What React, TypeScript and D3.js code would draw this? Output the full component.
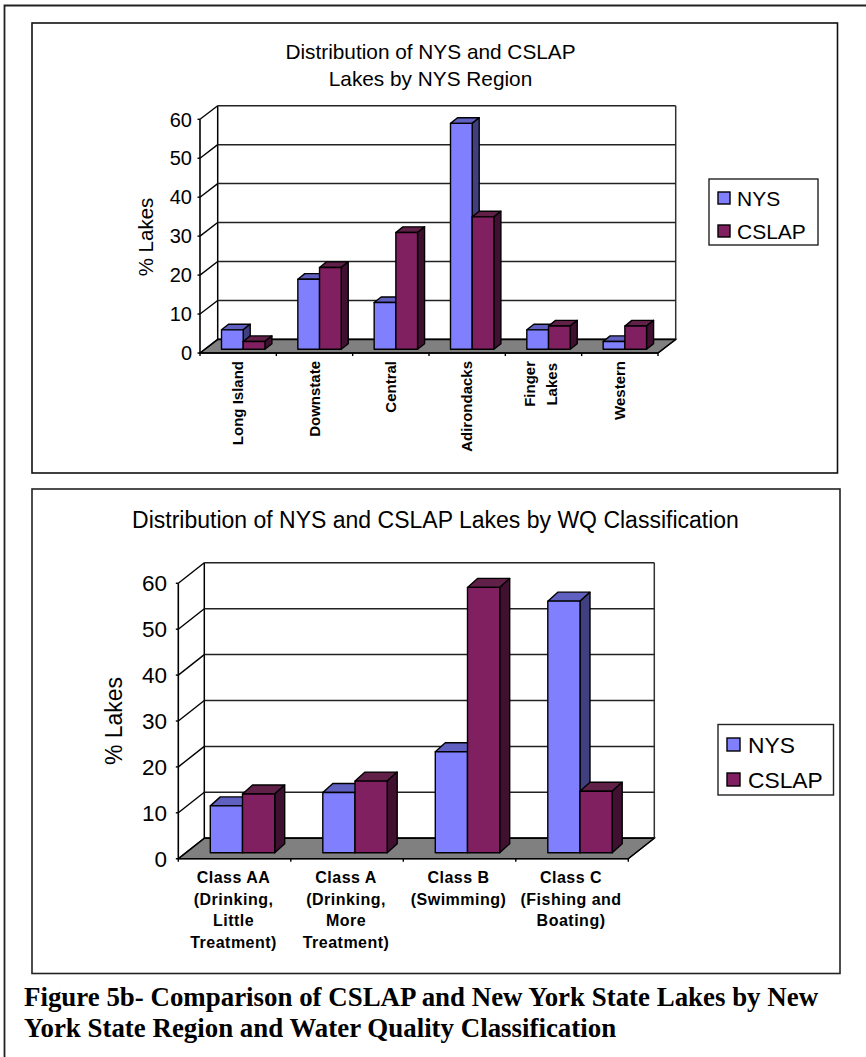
import React from "react";
import * as d3 from "d3";

const seriesNames = ["NYS", "CSLAP"];
const yTicks = [0, 10, 20, 30, 40, 50, 60];

const regionLabels = [["Long Island"], ["Downstate"], ["Central"], ["Adirondacks"], ["Finger", "Lakes"], ["Western"]];
const regionNYS = [5, 18, 12, 58, 5, 2];
const regionCSLAP = [2, 21, 30, 34, 6, 6];

const classLabels = [
  ["Class AA", "(Drinking,", "Little", "Treatment)"],
  ["Class A", "(Drinking,", "More", "Treatment)"],
  ["Class B", "(Swimming)"],
  ["Class C", "(Fishing and", "Boating)"],
];
const classNYS = [10.2, 13.1, 22, 54.8];
const classCSLAP = [12.8, 15.6, 57.8, 13.4];

const FACE = ["#8080ff", "#802060"];
const TOP = ["#6060c0", "#602048"];
const SIDE = ["#404080", "#401030"];
const FONT = "'Liberation Sans', Arial, sans-serif";
const SERIF = "'Liberation Serif', 'Times New Roman', serif";

type Cfg = {
  x0: number; x1: number; y0: number; y60: number; depth: [number, number];
  barBase: number; barPad: number; barW: number; barD: [number, number];
  tickSize: number; tickRight: number; titleSize: number; titleY: number;
  titleBaselineX: number;
};

function Chart3D({ cfg, a, b, n }: { cfg: Cfg; a: number[]; b: number[]; n: number }) {
  const { x0, x1, y0, y60, depth, barBase, barPad, barW, barD } = cfg;
  const [dx, dy] = depth;
  const x = d3.scaleLinear().domain([0, n]).range([x0, x1]);
  const y = d3.scaleLinear().domain([0, 60]).range([y0, y60]);
  const h = (v: number) => y(0) - y(v);
  const poly = (p: number[][]) => p.map((q) => q.join(",")).join(" ");
  return (
    <g fontFamily={FONT} fill="#000">
      <polygon points={poly([[x0, y0], [x1, y0], [x1 + dx, y0 + dy], [x0 + dx, y0 + dy]])} fill="#808080" stroke="#000" strokeWidth={1.3} />
      <line x1={x0 + dx} x2={x0 + dx} y1={y60 + dy} y2={y0 + dy} stroke="#000" strokeWidth={1.5} />
      <line x1={x1 + dx} x2={x1 + dx} y1={y60 + dy} y2={y0 + dy} stroke="#333" strokeWidth={1.5} />
      <line x1={x0 + dx} x2={x1 + dx} y1={y0 + dy} y2={y0 + dy} stroke="#000" strokeWidth={1.8} />
      {yTicks.map((t) => (
        <g key={t}>
          {t > 0 && <line x1={x0 + dx} x2={x1 + dx} y1={y(t) + dy} y2={y(t) + dy} stroke="#222" strokeWidth={1.5} />}
          <line x1={x0} x2={x0 + dx} y1={y(t)} y2={y(t) + dy} stroke="#000" strokeWidth={1.4} />
          <line x1={x0 - 2.5} x2={x0} y1={y(t)} y2={y(t)} stroke="#000" strokeWidth={1.4} />
          <text x={cfg.tickRight} y={y(t)} dy="0.36em" textAnchor="end" fontSize={cfg.tickSize}>{t}</text>
        </g>
      ))}
      <line x1={x0} x2={x0} y1={y60} y2={y0} stroke="#000" strokeWidth={1.6} />
      <line x1={x0} x2={x1} y1={y0} y2={y0} stroke="#000" strokeWidth={1.4} />
      <line x1={x1} x2={x1 + dx} y1={y0} y2={y0 + dy} stroke="#000" strokeWidth={1.2} />
      {d3.range(n + 1).map((i) => (
        <line key={i} x1={x(i)} x2={x(i)} y1={y0} y2={y0 + 3} stroke="#000" strokeWidth={1.4} />
      ))}
      {d3.range(n).map((i) =>
        [a[i], b[i]].map((v, s) => {
          const left = x(i) + barPad + s * barW;
          const right = left + barW;
          const top = barBase - h(v);
          const [bx, by] = barD;
          return (
            <g key={`${i}-${s}`} stroke="#000" strokeWidth={1.4} strokeLinejoin="round">
              <polygon points={poly([[left, top], [right, top], [right + bx, top + by], [left + bx, top + by]])} fill={TOP[s]} />
              <polygon points={poly([[right, top], [right + bx, top + by], [right + bx, barBase + by], [right, barBase]])} fill={SIDE[s]} />
              <rect x={left} y={top} width={barW} height={barBase - top} fill={FACE[s]} />
            </g>
          );
        })
      )}
      <text transform={`translate(${cfg.titleBaselineX},${cfg.titleY}) rotate(-90)`} textAnchor="middle" fontSize={cfg.titleSize}>% Lakes</text>
    </g>
  );
}

function Legend({ x, y, w, h, sw, rows, fs, textX }: { x: number; y: number; w: number; h: number; sw: number; rows: number[]; fs: number; textX: number }) {
  return (
    <g fontFamily={FONT}>
      <rect x={x} y={y} width={w} height={h} fill="#fff" stroke="#222" strokeWidth={1.4} />
      {seriesNames.map((s, i) => (
        <g key={s}>
          <rect x={x + 9} y={rows[i] - sw / 2} width={sw} height={sw} fill={FACE[i]} stroke="#000" strokeWidth={1.4} />
          <text x={textX} y={rows[i]} dy="0.36em" fontSize={fs}>{s}</text>
        </g>
      ))}
    </g>
  );
}

export default function App() {
  const top: Cfg = {
    x0: 200, x1: 658, y0: 353, y60: 119.3, depth: [17.7, -13.6],
    barBase: 349.3, barPad: 21.5, barW: 21.7, barD: [7, -5.6],
    tickSize: 20, tickRight: 192, titleSize: 20.5, titleY: 237, titleBaselineX: 152.5,
  };
  const bot: Cfg = {
    x0: 178.3, x1: 628.3, y0: 858.7, y60: 583.3, depth: [26, -20.5],
    barBase: 852.7, barPad: 32, barW: 32.2, barD: [10, -9],
    tickSize: 22.5, tickRight: 167, titleSize: 23, titleY: 721, titleBaselineX: 122,
  };
  const topX = d3.scaleBand<number>().domain(d3.range(6)).range([top.x0, top.x1]);
  const botX = d3.scaleBand<number>().domain(d3.range(4)).range([bot.x0, bot.x1]);
  return (
    <svg width={866} height={1057} viewBox="0 0 866 1057" style={{ position: "absolute", left: 0, top: 0, background: "#fff" }}>
      <path d="M866,5.5H4.5V1057" fill="none" stroke="#222" strokeWidth={1.8} />
      <rect x={32} y={23} width={805.5} height={450} fill="#fff" stroke="#111" strokeWidth={1.6} />
      <rect x={32} y={489} width={808} height={484.5} fill="#fff" stroke="#222" strokeWidth={1.6} />

      <g fontFamily={FONT} textAnchor="middle">
        <text x={430.5} y={59} fontSize={20.8}>Distribution of NYS and CSLAP</text>
        <text x={430.5} y={86} fontSize={20.8}>Lakes by NYS Region</text>
        <text x={435.5} y={528} fontSize={23}>Distribution of NYS and CSLAP Lakes by WQ Classification</text>
      </g>

      <Chart3D cfg={top} a={regionNYS} b={regionCSLAP} n={6} />
      <Chart3D cfg={bot} a={classNYS} b={classCSLAP} n={4} />

      <g fontFamily={FONT} fontWeight="bold" fontSize={15}>
        {regionLabels.map((lines, i) =>
          lines.map((l, j) => {
            const c = topX(i)! + topX.bandwidth() / 2;
            const bx = lines.length === 1 ? c + 5 : c - 9 + j * 22;
            return <text key={l} transform={`translate(${bx},${j === 0 ? 361 : 363}) rotate(-90)`} textAnchor="end">{l}</text>;
          })
        )}
      </g>
      <g fontFamily={FONT} fontWeight="bold" fontSize={16} letterSpacing={0.5} textAnchor="middle">
        {classLabels.map((lines, i) =>
          lines.map((l, j) => (
            <text key={j} x={botX(i)! + botX.bandwidth() / 2 - 1} y={883 + j * 21.6}>{l}</text>
          ))
        )}
      </g>

      <Legend x={709} y={179} w={109} h={66} sw={12} rows={[198, 231]} fs={21} textX={737} />
      <Legend x={718} y={724.5} w={115.5} h={70.5} sw={13} rows={[744.5, 779.5]} fs={22.8} textX={748} />

      <g fontFamily={SERIF} fontWeight="bold" fontSize={26.9}>
        <text x={24} y={1006}>Figure 5b- Comparison of CSLAP and New York State Lakes by New</text>
        <text x={24} y={1037}>York State Region and Water Quality Classification</text>
      </g>
    </svg>
  );
}
